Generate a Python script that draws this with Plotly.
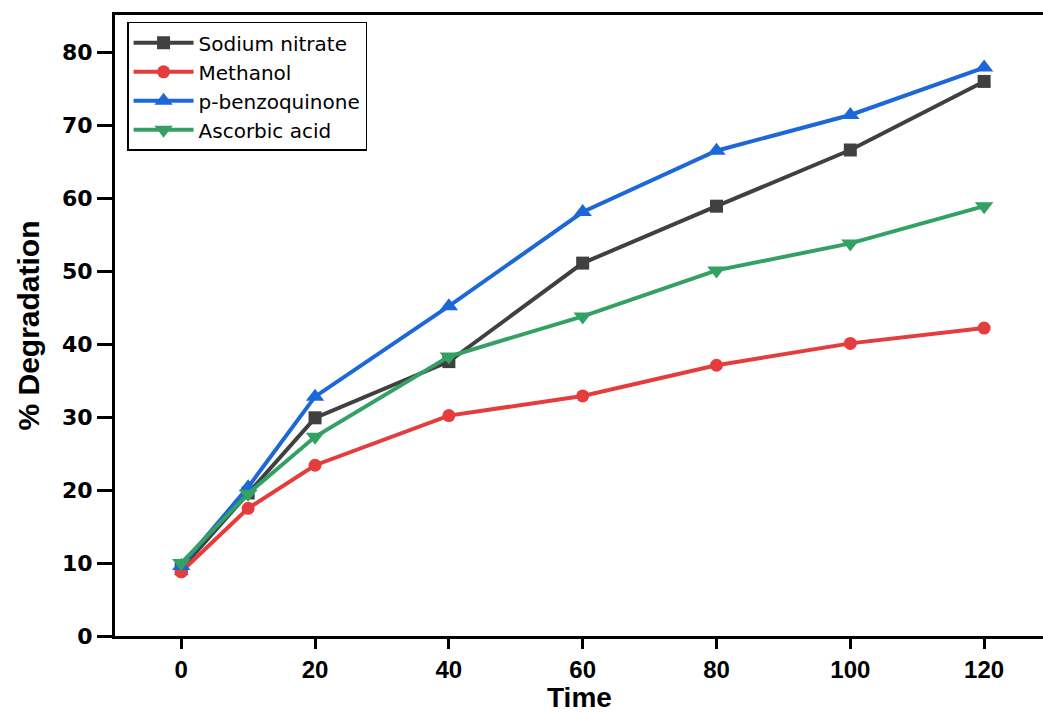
import plotly.graph_objects as go

time = [0, 10, 20, 40, 60, 80, 100, 120]
sodium_nitrate = [9.2, 19.6, 29.9, 37.6, 51.1, 58.9, 66.6, 76.0]
methanol = [8.8, 17.5, 23.4, 30.2, 32.9, 37.1, 40.1, 42.2]
p_benzoquinone = [9.6, 20.4, 32.8, 45.2, 58.1, 66.5, 71.4, 77.9]
ascorbic_acid = [10.0, 19.5, 27.3, 38.3, 43.8, 50.1, 53.8, 58.9]

y_ticks = [0, 10, 20, 30, 40, 50, 60, 70, 80]
x_ticks = [0, 20, 40, 60, 80, 100, 120]

series = [
    ("Sodium nitrate", sodium_nitrate, "#404040", "square", 13),
    ("Methanol", methanol, "#e53d3d", "circle", 13),
    ("p-benzoquinone", p_benzoquinone, "#1c68d8", "triangle-up", 16),
    ("Ascorbic acid", ascorbic_acid, "#33a064", "triangle-down", 16),
]

fig = go.Figure()
for name, vals, col, sym, sz in series:
    fig.add_trace(go.Scatter(
        x=time, y=vals, name=name, mode="lines+markers",
        line=dict(color=col, width=4),
        marker=dict(symbol=sym, size=sz, color=col),
    ))

fig.add_annotation(
    text="<b>Time</b>", xref="paper", yref="paper", x=0.5, y=-0.099,
    xanchor="center", yanchor="middle", showarrow=False,
    font=dict(family="Liberation Sans, Arial, sans-serif", size=28, color="black"),
)

fig.update_layout(
    width=1043, height=713,
    margin=dict(l=115, r=0, t=15, b=77),
    plot_bgcolor="white", paper_bgcolor="white",
    showlegend=True,
    legend=dict(
        x=0.013, y=0.989, xanchor="left", yanchor="top",
        bgcolor="white", bordercolor="black", borderwidth=1.5,
        font=dict(family="DejaVu Sans, sans-serif", size=20, color="black"),
        tracegroupgap=0, itemwidth=60,
    ),
    xaxis=dict(
        range=[-9.9, 128.8], tickvals=x_ticks, ticktext=[str(v) for v in x_ticks],
        showline=True, linecolor="black", linewidth=3, mirror=True,
        ticks="outside", ticklen=10, tickwidth=3, tickcolor="black",
        showgrid=False, zeroline=False,
        tickfont=dict(family="Liberation Sans, Arial, sans-serif", size=24, color="black", weight="bold"),
    ),
    yaxis=dict(
        range=[0, 85.1], tickvals=y_ticks, ticktext=[str(v) for v in y_ticks],
        showline=True, linecolor="black", linewidth=3, mirror=False,
        ticks="outside", ticklen=15, tickwidth=3, tickcolor="black",
        showgrid=False, zeroline=False,
        tickfont=dict(family="DejaVu Sans, sans-serif", size=22, color="black", weight="bold"),
        title=dict(text="<b>% Degradation</b>", font=dict(family="Liberation Sans, Arial, sans-serif", size=30, color="black"), standoff=14),
    ),
)

fig.write_html("out.html")
